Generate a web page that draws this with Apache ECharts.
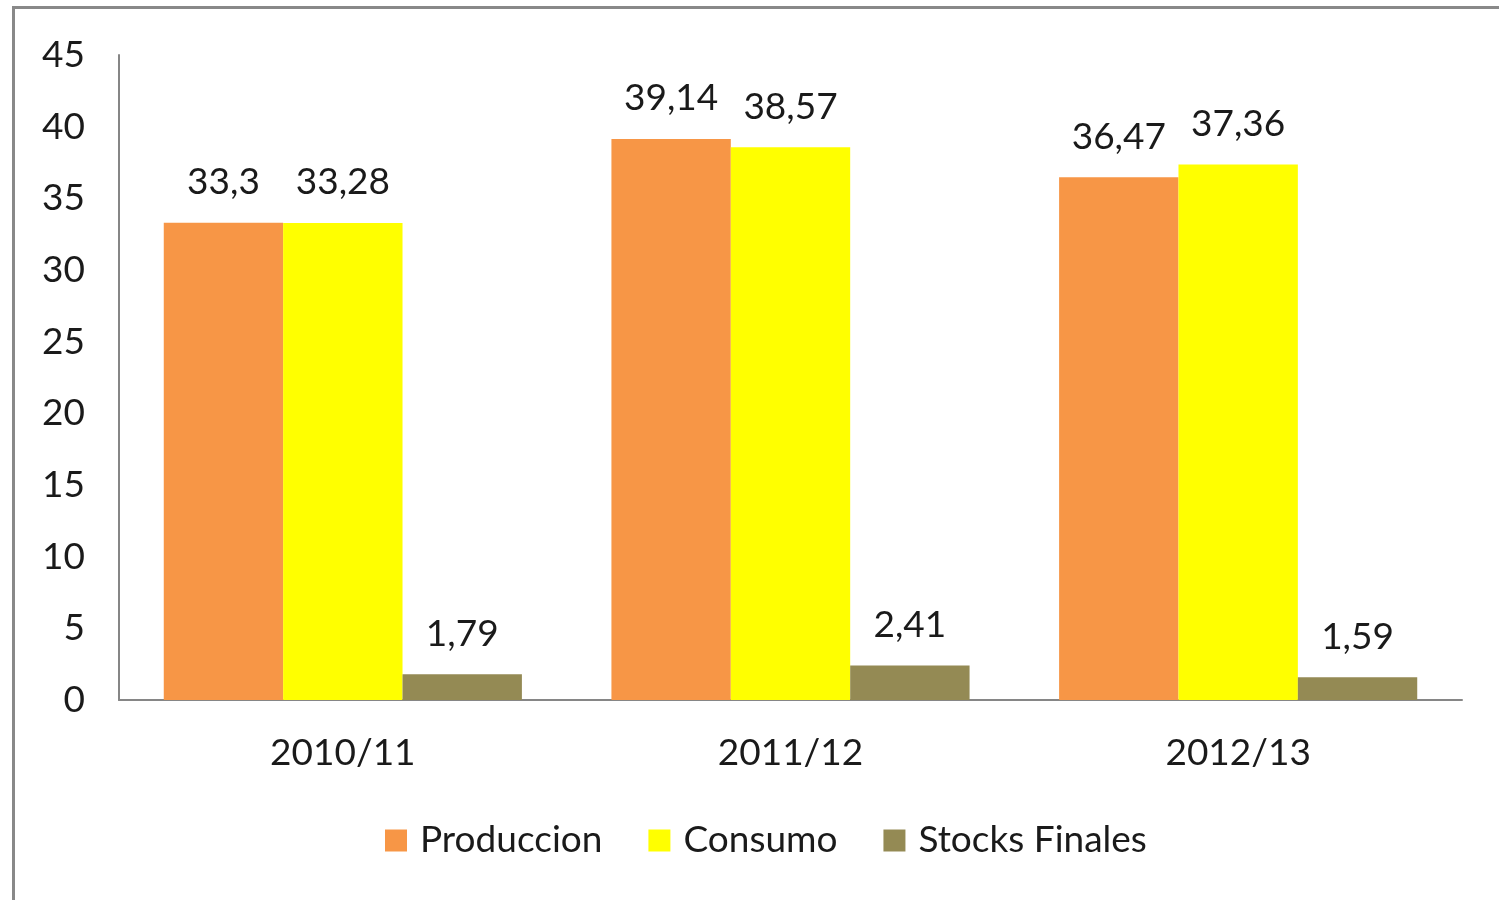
<!DOCTYPE html>
<html>
<head>
<meta charset="utf-8">
<script src="https://cdn.jsdelivr.net/npm/echarts@6/dist/echarts.min.js"></script>
<style>
  html, body { margin: 0; padding: 0; background: #fff; }
  #frame {
    position: absolute; left: 12px; top: 6px; width: 1600px; height: 1000px;
    border-left: 3px solid #898989; border-top: 3px solid #898989;
  }
  #chart { position: absolute; left: 0; top: 0; width: 1499px; height: 900px; }
</style>
</head>
<body>
<div id="frame"></div>
<div id="chart"></div>
<script>
const categories = ['2010/11', '2011/12', '2012/13']
const produccion = [33.3, 39.14, 36.47]
const consumo = [33.28, 38.57, 37.36]
const stocksFinales = [1.79, 2.41, 1.59]

const font = 'Lato'
const textColor = '#1a1a1a'

const commaLabel = (p) => String(p.value).replace('.', ',')

const makeSeries = (name, data, color) => ({
  name,
  type: 'bar',
  data,
  barGap: '0%',
  barCategoryGap: '20%',
  itemStyle: { color },
  label: {
    show: true,
    position: 'top',
    distance: 22,
    formatter: commaLabel,
    color: textColor,
    fontFamily: font,
    fontSize: 37,
  },
})

const chart = echarts.init(document.getElementById('chart'))
chart.setOption({
  animation: false,
  grid: { left: 119, right: 37, top: 55, bottom: 200 },
  legend: {
    bottom: 36,
    left: 380,
    itemWidth: 22,
    itemHeight: 22,
    itemGap: 46,
    icon: 'rect',
    textStyle: { fontFamily: font, fontSize: 37, color: textColor, padding: [0, 0, 0, 8] },
    data: ['Produccion', 'Consumo', 'Stocks Finales'],
  },
  xAxis: {
    type: 'category',
    data: categories,
    axisLine: { lineStyle: { color: '#868686', width: 2 } },
    axisTick: { show: false },
    axisLabel: { margin: 35, fontFamily: font, fontSize: 37, color: textColor },
  },
  yAxis: {
    type: 'value',
    min: 0,
    max: 45,
    interval: 5,
    axisLine: { show: true, lineStyle: { color: '#868686', width: 2 } },
    axisTick: { show: false },
    splitLine: { show: false },
    axisLabel: { margin: 34, fontFamily: font, fontSize: 37, color: textColor },
  },
  series: [
    makeSeries('Produccion', produccion, '#F79646'),
    makeSeries('Consumo', consumo, '#FFFF00'),
    makeSeries('Stocks Finales', stocksFinales, '#948A54'),
  ],
})
</script>
</body>
</html>
